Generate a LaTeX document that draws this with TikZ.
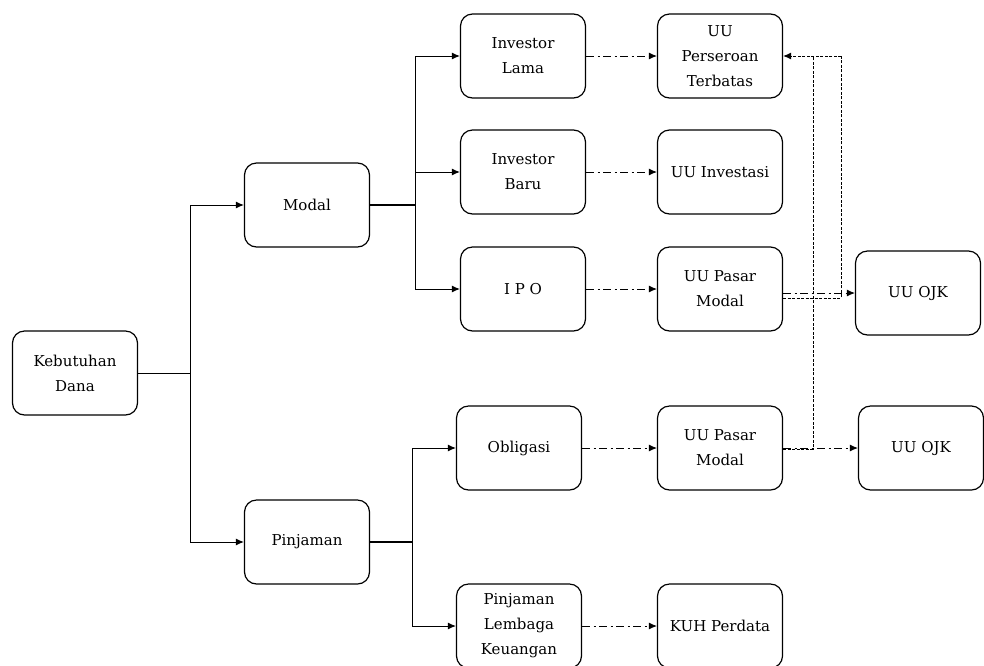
\documentclass[tikz,border=0pt]{standalone}
\usepackage{fontspec}
\setmainfont{DejaVu Serif}
\usetikzlibrary{arrows.meta}
\begin{document}
\begin{tikzpicture}[x=1pt,y=-1pt,
  box/.style={draw,line width=1.2pt,rounded corners=12pt,minimum width=125pt,minimum height=84pt,
    align=center,font=\fontsize{15}{25}\selectfont,inner sep=2pt},
  link/.style={line width=1pt},
  arr/.style={link,-{Latex[length=8pt,width=7pt]}},
  dashdot/.style={arr,line width=0.9pt,dash pattern=on 8pt off 3.5pt on 2pt off 3.5pt},
  dashline/.style={line width=1pt,dash pattern=on 3pt off 1.5pt}]
\useasboundingbox (0,0) rectangle (984,665);

% tree of needs
\node[box] (need) at (75,373) {Kebutuhan\\Dana};
\node[box] (modal) at (307,205) {Modal};
\node[box] (loan) at (307,542) {Pinjaman};

\node[box] (old) at (523,56) {Investor\\Lama};
\node[box] (new) at (523,172) {Investor\\Baru};
\node[box] (ipo) at (523,289) {I P O};
\node[box] (bond) at (519,448) {Obligasi};
\node[box] (bank) at (519,626) {Pinjaman\\Lembaga\\Keuangan};

% laws
\node[box] (pt) at (720,56) {UU\\Perseroan\\Terbatas};
\node[box] (inv) at (720,172) {UU Investasi};
\node[box] (pm1) at (720,289) {UU Pasar\\Modal};
\node[box] (pm2) at (720,448) {UU Pasar\\Modal};
\node[box] (kuh) at (720,626) {KUH Perdata};
\node[box] (ojk1) at (918,293) {UU OJK};
\node[box] (ojk2) at (921,448) {UU OJK};

% branch points
\coordinate (t0) at (190,373);
\coordinate (t1) at (415,205);
\coordinate (t2) at (412,542);

\draw[link] (need.east) -- (t0);
\draw[arr] (t0) |- (modal.west);
\draw[arr] (t0) |- (loan.west);

\draw[line width=2.4pt] (modal.east) -- (t1);
\draw[arr] (t1) |- (old.west);
\draw[arr] (t1) |- (new.west);
\draw[arr] (t1) |- (ipo.west);

\draw[line width=2.4pt] (loan.east) -- (t2);
\draw[arr] (t2) |- (bond.west);
\draw[arr] (t2) |- (bank.west);

% governing laws
\draw[dashdot] (old) -- (pt);
\draw[dashdot] (new) -- (inv);
\draw[dashdot] (ipo) -- (pm1);
\draw[dashdot] (bond) -- (pm2);
\draw[dashdot] (bank) -- (kuh);
\draw[dashdot] (pm1.east |- ojk1) -- (ojk1.west);
\draw[dashdot] (pm2) -- (ojk2);

% feedback to company law
\coordinate (r1) at (841,56);
\coordinate (r2) at (813,56);
\draw[dashline] ([yshift=-5pt]pm1.east |- ojk1) -| (r1);
\draw[dashline,-{Latex[length=8pt,width=7pt]}] (r1) -- (pt.east);
\draw[dashline] ([yshift=-1pt]pm2.east) -| (r2);
\end{tikzpicture}
\end{document}
